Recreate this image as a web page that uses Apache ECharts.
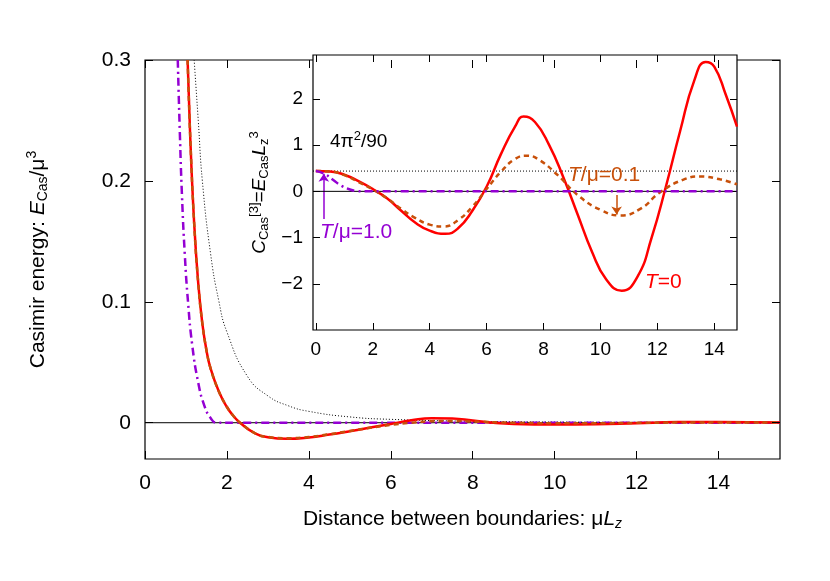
<!DOCTYPE html>
<html><head><meta charset="utf-8">
<script src="https://cdn.jsdelivr.net/npm/echarts@6/dist/echarts.min.js"></script>
<style>html,body{margin:0;padding:0;background:#fff}#c{width:830px;height:581px}</style>
</head><body><div id="c"></div>
<script>
// Main panel: Casimir energy E/mu^3 vs mu*Lz
const mainT0 = [[1.04,0.3],[1.1,0.24],[1.2,0.165],[1.3,0.115],[1.4,0.082],[1.5,0.06],[1.6,0.045],[1.8,0.026],[2.0,0.013],[2.15,0.006],[2.32,0],[2.7,-0.009],[3.0,-0.012],[3.47,-0.0133],[4,-0.0122],[4.5,-0.0098],[5,-0.007],[5.5,-0.004],[6,-0.001],[6.5,0.002],[7,0.0038],[7.5,0.0035],[8,0.0018],[8.5,0],[9,-0.001],[10,-0.0015],[11,-0.0013],[12,-0.0004],[13,0.0005],[14,0.0007],[15.5,0.0002]];
const mainT01 = [[1.04,0.3],[1.1,0.24],[1.2,0.165],[1.3,0.115],[1.4,0.082],[1.5,0.06],[1.6,0.045],[1.8,0.026],[2.0,0.013],[2.15,0.006],[2.32,0],[2.7,-0.009],[3.0,-0.0118],[3.5,-0.0128],[4,-0.0118],[4.5,-0.0095],[5,-0.0068],[5.5,-0.0042],[6,-0.0018],[6.5,0],[7,0.0013],[7.5,0.0015],[8,0.001],[9,0],[10,-0.0004],[11,-0.0004],[12,-0.0001],[13,0.0001],[15.5,0.0001]];
const mainT1 = [[0.8,0.3],[0.85,0.24],[0.9,0.19],[0.97,0.14],[1.05,0.1],[1.15,0.065],[1.3,0.033],[1.45,0.014],[1.6,0.004],[1.75,0],[2.2,0],[15.5,0]];
const mainFree = [[1.2,0.3],[1.3,0.25],[1.4,0.2],[1.6,0.14],[1.8,0.101],[2,0.075],[2.5,0.0384],[3,0.0222],[3.5,0.014],[4,0.0094],[5,0.0048],[6,0.0028],[8,0.0012],[10,0.0006],[12,0.00035],[15.5,0.00016]];
// Inset: C = E * Lz^3
const insT0 = [[0,0.44],[0.5,0.43],[1,0.36],[1.5,0.22],[2,0.05],[2.5,-0.15],[3,-0.42],[3.5,-0.68],[4,-0.85],[4.55,-0.92],[5,-0.8],[5.5,-0.42],[6,0.1],[6.5,0.8],[7,1.4],[7.3,1.62],[7.7,1.5],[8.2,1.0],[8.7,0.3],[9.2,-0.5],[9.7,-1.3],[10.2,-1.9],[10.75,-2.15],[11.3,-1.85],[11.8,-1.0],[12.3,0.1],[12.8,1.3],[13.3,2.4],[13.7,2.8],[14.0,2.7],[14.4,2.1],[14.8,1.4]];
const insT01 = [[0,0.44],[0.5,0.43],[1,0.35],[1.5,0.2],[2,0.04],[2.5,-0.15],[3,-0.38],[3.5,-0.58],[4,-0.72],[4.5,-0.76],[5,-0.62],[5.5,-0.33],[6,0.05],[6.5,0.42],[7,0.7],[7.4,0.77],[7.8,0.7],[8.5,0.35],[9.2,-0.08],[10,-0.4],[10.7,-0.52],[11.4,-0.38],[12.1,-0.02],[12.9,0.25],[13.5,0.32],[14.2,0.26],[14.8,0.15]];
const insT1 = [[0,0.44],[0.3,0.38],[0.6,0.25],[0.9,0.12],[1.2,0.04],[1.4,0.01],[1.7,0],[14.8,0]];
const freeLevel = 0.4386;
const mainXTicks = [0,2,4,6,8,10,12,14];
const mainYTicks = [0,0.1,0.2,0.3];
const insXTicks = [0,2,4,6,8,10,12,14];
const insYTicks = [-2,-1,0,1,2];

const F = 'Liberation Sans, Arial, sans-serif';
const RED='#ff0000', BROWN='#c8500a', PURPLE='#9400d3';
const chart = echarts.init(document.getElementById('c'));
const hidden = {show:false};
const noLine = {show:false,onZero:false};
const fmt = v => { if (Math.abs(v)<1e-9) return '0'; const s = (Math.abs(v)<1 && v%1!==0) ? v.toFixed(1) : String(v); return v<0 ? '−'+s.slice(1) : s; };
const mirror = (g, vals, min, max, pos, len) => ({gridIndex:g,type:'value',min:min,max:max,position:pos,splitLine:hidden,axisLine:noLine,
  axisLabel:{show:false,customValues:vals},axisTick:{inside:true,length:len,lineStyle:{color:'#000'},customValues:vals},z:6});
chart.setOption({
  animation:false,
  textStyle:{fontFamily:F},
  grid:[
    {left:145,right:50,top:60,bottom:122,show:true,borderColor:'#000',borderWidth:1.2,z:0},
    {left:313,right:93,top:55,bottom:251,show:true,borderColor:'#000',borderWidth:1.2,backgroundColor:'#fff',z:5}
  ],
  xAxis:[
    {gridIndex:0,type:'value',min:0,max:15.5,splitLine:hidden,
     axisLine:noLine,axisTick:{inside:true,length:8,lineStyle:{color:'#000'},customValues:mainXTicks},
     axisLabel:{color:'#000',fontSize:21,margin:14,customValues:mainXTicks,formatter:fmt},
     name:'{n|Distance between boundaries: μ}{i|L}{s|z}',nameLocation:'middle',nameGap:48,
     nameTextStyle:{rich:{n:{fontSize:21,color:'#000'},i:{fontSize:21,fontStyle:'italic',color:'#000'},s:{fontSize:14,fontStyle:'italic',color:'#000',padding:[10,0,0,0]}}}},
    {gridIndex:1,type:'value',min:-0.1,max:14.8,splitLine:hidden,
     axisLine:noLine,axisTick:{inside:true,length:7,lineStyle:{color:'#000'},customValues:insXTicks},
     axisLabel:{color:'#000',fontSize:19,margin:10,customValues:insXTicks,formatter:fmt},
     z:6},
    mirror(0, mainXTicks, 0, 15.5, 'top', 8),
    mirror(1, insXTicks, -0.1, 14.8, 'top', 7)
  ],
  yAxis:[
    {gridIndex:0,type:'value',min:-0.03,max:0.3,splitLine:hidden,
     axisLine:noLine,axisTick:{inside:true,length:8,lineStyle:{color:'#000'},customValues:mainYTicks},
     axisLabel:{color:'#000',fontSize:21,margin:14,customValues:mainYTicks,formatter:fmt},
     name:'{n|Casimir energy: }{i|E}{s|Cas}{n|/μ}{p|3}',nameLocation:'middle',nameGap:94,nameRotate:90,
     nameTextStyle:{rich:{n:{fontSize:21,color:'#000'},i:{fontSize:21,fontStyle:'italic',color:'#000'},s:{fontSize:14,color:'#000',padding:[10,0,0,0]},p:{fontSize:14,color:'#000',padding:[0,0,12,0]}}}},
    {gridIndex:1,type:'value',min:-3,max:2.95,splitLine:hidden,
     axisLine:noLine,axisTick:{inside:true,length:7,lineStyle:{color:'#000'},customValues:insYTicks},
     axisLabel:{color:'#000',fontSize:19,margin:10,customValues:insYTicks,formatter:fmt},
     name:'{i|C}{s|Cas}{p|[3]}{n|=}{i|E}{s|Cas}{i|L}{s|z}{p|3}',nameLocation:'middle',nameGap:38,nameRotate:90,
     nameTextStyle:{rich:{n:{fontSize:19,color:'#000'},i:{fontSize:19,fontStyle:'italic',color:'#000'},s:{fontSize:13,color:'#000',padding:[8,0,0,0]},p:{fontSize:13,color:'#000',padding:[0,0,12,0]}}},
     z:6},
    mirror(0, mainYTicks, -0.03, 0.3, 'right', 8),
    mirror(1, insYTicks, -3, 2.95, 'right', 7)
  ],
  series:[
    {type:'line',xAxisIndex:0,yAxisIndex:0,data:[[0,0],[15.5,0]],symbol:'none',lineStyle:{color:'#000',width:1},silent:true,z:1},
    {type:'line',xAxisIndex:0,yAxisIndex:0,data:mainFree,smooth:true,symbol:'none',lineStyle:{color:'#000',width:1,type:[1,2]},z:2},
    {type:'line',xAxisIndex:0,yAxisIndex:0,data:mainT1,smooth:true,symbol:'none',lineStyle:{color:PURPLE,width:2.5,type:[8,4,2,4]},z:2},
    {type:'line',xAxisIndex:0,yAxisIndex:0,data:mainT0,smooth:true,symbol:'none',lineStyle:{color:RED,width:2.5},z:2},
    {type:'line',xAxisIndex:0,yAxisIndex:0,data:mainT01,smooth:true,symbol:'none',lineStyle:{color:BROWN,width:2.5,type:[5,4]},z:3},

    {type:'line',xAxisIndex:1,yAxisIndex:1,data:[[-0.1,0],[14.8,0]],symbol:'none',lineStyle:{color:'#000',width:1},z:6},
    {type:'line',xAxisIndex:1,yAxisIndex:1,data:[[-0.1,freeLevel],[14.8,freeLevel]],symbol:'none',lineStyle:{color:'#000',width:1,type:[1,2]},z:6},
    {type:'line',xAxisIndex:1,yAxisIndex:1,data:insT0,smooth:true,symbol:'none',lineStyle:{color:RED,width:2.5},z:7},
    {type:'line',xAxisIndex:1,yAxisIndex:1,data:insT01,smooth:true,symbol:'none',lineStyle:{color:BROWN,width:2.5,type:[5,4]},z:8},
    {type:'line',xAxisIndex:1,yAxisIndex:1,data:insT1,smooth:true,symbol:'none',lineStyle:{color:PURPLE,width:2.5,type:[8,4,2,4]},z:8,
     markLine:{silent:true,symbol:['none','arrow'],symbolSize:8,label:{show:false},data:[
       [{coord:[0.28,-0.6],lineStyle:{color:PURPLE,width:1.5,type:'solid'}},{coord:[0.28,0.38]}],
       [{coord:[10.57,-0.08],lineStyle:{color:BROWN,width:1.5,type:'solid'}},{coord:[10.57,-0.5]}]
     ]}}
  ],
  graphic:[
    {type:'text',left:330,top:130,z:20,style:{text:'{n|4π}{p|2}{n|/90}',rich:{n:{fontSize:19,fill:'#000'},p:{fontSize:13,fill:'#000',padding:[0,0,10,0]}},fontFamily:F}},
    {type:'text',left:320,top:222,z:20,style:{text:'{i|T}{n|/μ=1.0}',rich:{i:{fontSize:21,fontStyle:'italic',fill:PURPLE},n:{fontSize:21,fill:PURPLE}},fontFamily:F}},
    {type:'text',left:568,top:165,z:20,style:{text:'{i|T}{n|/μ=0.1}',rich:{i:{fontSize:21,fontStyle:'italic',fill:BROWN},n:{fontSize:21,fill:BROWN}},fontFamily:F}},
    {type:'text',left:645,top:272,z:20,style:{text:'{i|T}{n|=0}',rich:{i:{fontSize:21,fontStyle:'italic',fill:RED},n:{fontSize:21,fill:RED}},fontFamily:F}}
  ]
});
</script></body></html>
